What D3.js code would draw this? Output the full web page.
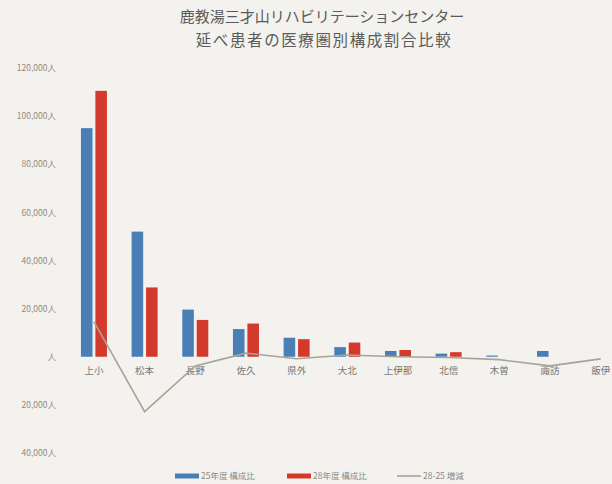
<!DOCTYPE html>
<html>
<head>
<meta charset="utf-8">
<script src="https://cdn.jsdelivr.net/npm/d3@7"></script>
<style>
  body { margin: 0; background: #f3f2ee; }
  svg { display: block; font-family: 'Noto Sans CJK JP', 'Noto Sans', sans-serif; }
</style>
</head>
<body>
<div id="chart"></div>
<script>
// categories (医療圏)
const categories = ['上小', '松本', '長野', '佐久', '県外', '大北', '上伊那', '北信', '木曽', '諏訪', '飯伊']
// 延べ患者数 (人)
const fy25 = [95000, 52000, 19600, 11500, 7900, 4000, 2400, 1300, 500, 2400, 0]
const fy28 = [110500, 28800, 15300, 13800, 7300, 5900, 2800, 1900, 0, 0, 0]
const diff = [14600, -22800, -3800, 1500, -800, 700, 0, -300, -1200, -3800, -900]
const yTicks = [-40000, -20000, 0, 20000, 40000, 60000, 80000, 100000, 120000]
const seriesNames = ['25年度 構成比', '28年度 構成比', '28-25 増減']
const titleLines = ['鹿教湯三才山リハビリテーションセンター', '延べ患者の医療圏別構成割合比較']

const W = 612, H = 484
const BLUE = '#4a7fb6', RED = '#d43a2b', GREY = '#a9a397'

const svg = d3.select('#chart').append('svg').attr('width', W).attr('height', H)

// title
svg.append('text').attr('x', 322).attr('y', 22).attr('text-anchor', 'middle')
  .attr('font-size', 15).attr('fill', '#5a5a5a').text(titleLines[0])
svg.append('text').attr('x', 324).attr('y', 46).attr('text-anchor', 'middle')
  .attr('font-size', 15.5).attr('letter-spacing', 1.6).attr('fill', '#5a5a5a').text(titleLines[1])

// scales
const x = d3.scaleBand().domain(categories).range([68.6, 626]).padding(0)
const inner = d3.scaleBand().domain([0, 1]).range([0, 26]).paddingInner(0.2)
const off = (x.bandwidth() - 26) / 2
const y = d3.scaleLinear().domain([-40000, 120000]).range([453, 68])

// y axis labels
const fmt = d3.format(',')
const yAxis = svg.append('g').attr('transform', 'translate(56,0)')
  .call(d3.axisLeft(y).tickValues(yTicks).tickSize(0).tickPadding(0)
    .tickFormat(d => (d === 0 ? '' : fmt(d)) + '人'))
yAxis.select('.domain').remove()
yAxis.selectAll('text').attr('font-size', 8.5).attr('fill', '#9a877b')
  .attr('font-family', "'Noto Sans CJK JP', sans-serif")
  .text(d => (d === 0 ? '' : fmt(Math.abs(d))) + '人')

// category labels
const xAxis = svg.append('g').attr('transform', `translate(0,${y(0)})`)
  .call(d3.axisBottom(x).tickSize(0).tickPadding(11))
xAxis.select('.domain').remove()
xAxis.selectAll('text').attr('font-size', 9.5).attr('fill', '#777')
  .attr('font-family', "'Noto Sans CJK JP', sans-serif")

// bars
const plot = svg.append('g')
plot.selectAll('.b25').data(categories).join('rect').attr('class', 'b25')
  .attr('x', d => x(d) + off + inner(0))
  .attr('width', inner.bandwidth())
  .attr('y', (d, i) => y(Math.max(0, fy25[i])))
  .attr('height', (d, i) => Math.abs(y(fy25[i]) - y(0)))
  .attr('fill', BLUE)
plot.selectAll('.b28').data(categories).join('rect').attr('class', 'b28')
  .attr('x', d => x(d) + off + inner(1))
  .attr('width', inner.bandwidth())
  .attr('y', (d, i) => y(Math.max(0, fy28[i])))
  .attr('height', (d, i) => Math.abs(y(fy28[i]) - y(0)))
  .attr('fill', RED)

// difference line
const line = d3.line()
  .x((d, i) => x(categories[i]) + x.bandwidth() / 2)
  .y(d => y(d))
plot.append('path').attr('d', line(diff))
  .attr('fill', 'none').attr('stroke', GREY).attr('stroke-width', 1.6)

// legend
const legend = svg.append('g').attr('transform', 'translate(0,476)')
const items = [
  { x: 175, color: BLUE, type: 'rect' },
  { x: 287, color: RED, type: 'rect' },
  { x: 397, color: GREY, type: 'line' },
]
items.forEach((it, i) => {
  if (it.type === 'rect') {
    legend.append('rect').attr('x', it.x).attr('y', -2.5).attr('width', 24).attr('height', 5).attr('fill', it.color)
  } else {
    legend.append('line').attr('x1', it.x).attr('x2', it.x + 24).attr('y1', 0).attr('y2', 0)
      .attr('stroke', it.color).attr('stroke-width', 1.6)
  }
  legend.append('text').attr('x', it.x + 26).attr('y', 3).attr('font-size', 8.5)
    .attr('fill', '#8a8a8a').text(seriesNames[i])
})
</script>
</body>
</html>
